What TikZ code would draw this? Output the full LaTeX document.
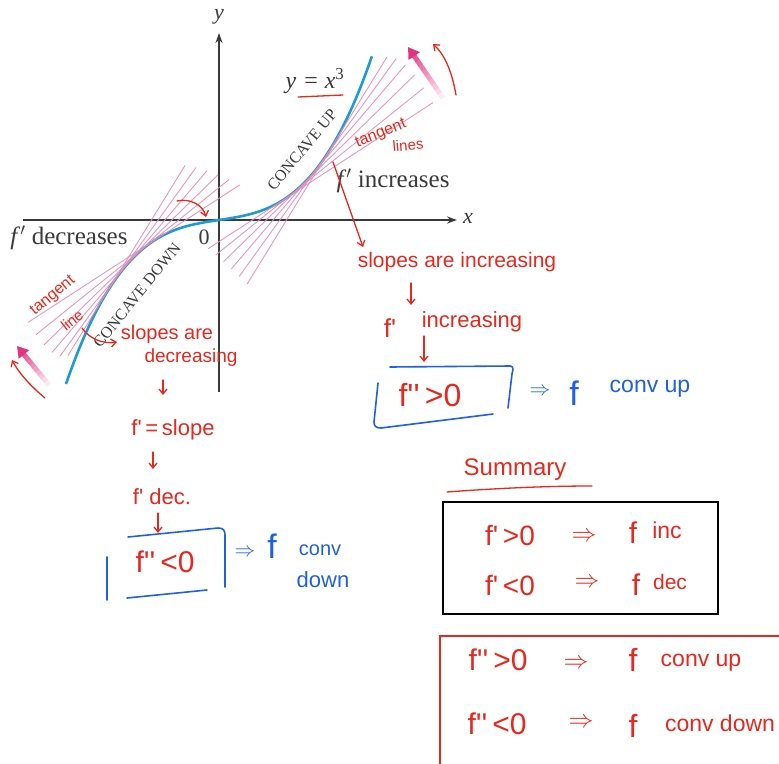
\documentclass[tikz,border=0pt]{standalone}
\usepackage{fontspec}
\setmainfont{Liberation Serif}
\newfontfamily\hand{Liberation Sans}
\usetikzlibrary{arrows.meta,calc}
\definecolor{axisgray}{HTML}{3A3A3A}
\definecolor{curveblue}{HTML}{1E9BD7}
\definecolor{tanpink}{HTML}{E98BB5}
\definecolor{arrpink}{HTML}{E2337F}
\definecolor{inkred}{HTML}{E8271E}
\definecolor{inkblue}{HTML}{1F5FE6}
\newcommand{\hfs}[1]{\hand\fontsize{#1}{#1}\selectfont}
\begin{document}
\begin{tikzpicture}[x=1pt,y=-1pt,
  axisline/.style={draw=axisgray, line width=1.4pt},
  tanline/.style={draw=tanpink, line width=0.9pt, opacity=0.9},
  cubic/.style={draw=curveblue, line width=2.6pt},
  lbl/.style={text=axisgray, inner sep=0pt},
  redink/.style={draw=inkred, line width=1.3pt, line cap=round, line join=round},
  blueink/.style={draw=inkblue, line width=1.6pt, line cap=round, line join=round},
  redtxt/.style={text=inkred, inner sep=0pt},
  bluetxt/.style={text=inkblue, inner sep=0pt},
  barb/.style={-{Straight Barb[length=5pt,width=8pt]}},
]
\useasboundingbox (0,0) rectangle (779,763);
\fill[white] (0,0) rectangle (779,763);

% axes
\draw[axisline, -{Stealth[length=10pt,width=7pt]}] (23,220) -- (457,220);
\draw[axisline, -{Stealth[length=10pt,width=7pt]}] (219,392) -- (219,33);

% cubic curve
\draw[cubic] plot[domain=-1:1,samples=120] ({219+153*\x},{220-(23*\x+141*\x*\x*\x)});

% tangent lines
\foreach \i in {0,...,5}{
  \pgfmathsetmacro\s{0.425+0.061*\i}
  \pgfmathsetmacro\m{(23+423*\s*\s)/153}
  \pgfmathsetmacro\c{-282*\s*\s*\s}
  \pgfmathsetmacro\xa{-11+7.8*\i}
  \pgfmathsetmacro\xb{214-9.2*\i}
  \pgfmathsetmacro\xc{-21+11*\i}
  \pgfmathsetmacro\xd{191-8*\i}
  \draw[tanline] ({219+\xa},{220-(\m*\xa+\c)}) -- ({219+\xb},{220-(\m*\xb+\c)});
  \draw[tanline] ({219-\xc},{220+(\m*\xc+\c)}) -- ({219-\xd},{220+(\m*\xd+\c)});
}

% fading magenta arrows
\coordinate (ta) at (443,98); \coordinate (ha) at (408,47);
\coordinate (tb) at (49,385); \coordinate (hb) at (17,346);
\foreach \i in {0,...,9}{
  \pgfmathsetmacro\p{10+9*\i}
  \draw[draw=arrpink!\p!white, line width=5pt] ($(ta)!\i/11!(ha)$) -- ($(ta)!\i/11+0.1!(ha)$);
  \draw[draw=arrpink!\p!white, line width=5pt] ($(tb)!\i/11!(hb)$) -- ($(tb)!\i/11+0.1!(hb)$);
}
\draw[draw=arrpink, line width=5pt, -{Triangle[length=11pt,width=13pt]}] ($(ta)!0.85!(ha)$) -- (ha);
\draw[draw=arrpink, line width=5pt, -{Triangle[length=11pt,width=13pt]}] ($(tb)!0.85!(hb)$) -- (hb);

% printed labels
\node[lbl, font=\itshape\fontsize{22}{22}\selectfont] (ylab) at (219,17) {y};
\node[lbl, font=\itshape\fontsize{22}{22}\selectfont] (xlab) at (468,218) {x};
\node[lbl, font=\fontsize{22}{22}\selectfont] (zero) at (204,237) {0};
\node[lbl, font=\fontsize{24}{24}\selectfont] (eq) at (315,81) {\textit{y}\hspace{8pt}=\hspace{7pt}\textit{x}\textsuperscript{3}};
\node[lbl, font=\fontsize{25}{25}\selectfont] (finc) at (393,181) {\textit{f}$'$ increases};
\node[lbl, font=\fontsize{25}{25}\selectfont] (fdec) at (69,238) {\textit{f}$'$ decreases};
\node[lbl, font=\fontsize{16}{16}\selectfont, rotate=50.5] (cup) at (302,150) {CONCAVE UP};
\node[lbl, font=\fontsize{16}{16}\selectfont, rotate=51] (cdown) at (137,295) {CONCAVE DOWN};

% red annotations on the graph
\draw[redink] (298,97) -- (343,95);
\draw[redink, barb] (456,95) .. controls (452,72) and (445,55) .. (433,44);
\draw[redink, barb] (45,398) .. controls (33,388) and (20,375) .. (12,360);
\draw[redink, barb] (177,201) .. controls (190,198) and (203,205) .. (206,217);
\node[redtxt, font=\hfs{16}, rotate=22] (tanR) at (381,134) {tangent};
\node[redtxt, font=\hfs{15}, rotate=5] (linR) at (408,145) {lines};
\node[redtxt, font=\hfs{16}, rotate=40] (tanL) at (53,296) {tangent};
\node[redtxt, font=\hfs{15}, rotate=38] (linL) at (72,320) {line};

% right chain
\coordinate (p1) at (333,162); \coordinate (p2) at (363,247);
\draw[redink, barb] (p1) -- (p2);
\node[redtxt, font=\hfs{21}] (sinc) at (457,262) {slopes are increasing};
\draw[redink, barb] (411,283) -- (411,305);
\node[redtxt, font=\hfs{26}] (fp1) at (390,328) {f\textquotesingle};
\node[redtxt, font=\hfs{22}] (incr) at (472,322) {increasing};
\draw[redink, barb] (424,336) -- (424,362);
\draw[blueink] (390,367) -- (510,366) .. controls (514,366) and (513,370) .. (512,374) -- (508,408);
\draw[blueink] (378,383) -- (374,422) .. controls (374,427) and (377,428) .. (381,428) -- (493,414);
\node[redtxt, font=\hfs{32}] (fpp1) at (430,395) {f\textquotesingle\textquotesingle\,>0};
\node[bluetxt, font=\fontsize{22}{22}\selectfont] (imp1) at (540,392) {$\Rightarrow$};
\node[bluetxt, font=\hfs{34}] (f1) at (574,393) {f};
\node[bluetxt, font=\hfs{23}] (cu1) at (650,389) {conv up};

% left chain
\draw[redink, barb] (82,328) .. controls (90,340) and (105,344) .. (117,342);
\node[redtxt, font=\hfs{20}] (sdec1) at (167,334) {slopes are};
\node[redtxt, font=\hfs{19}] (sdec2) at (191,358) {decreasing};
\draw[redink, barb] (163,380) -- (163,395);
\node[redtxt, font=\hfs{22}] (fslope) at (173,430) {f\textquotesingle\,=\,slope};
\draw[redink, barb] (153,452) -- (153,469);
\node[redtxt, font=\hfs{22}] (fdec2) at (162,497) {f\textquotesingle\ dec.};
\draw[redink, barb] (158,513) -- (158,533);
\draw[blueink] (128,537) -- (218,528) .. controls (223,528) and (225,530) .. (225,535) -- (225,587);
\draw[blueink] (107,557) -- (107,600);
\draw[blueink] (127,598) -- (207,590);
\node[redtxt, font=\hfs{30}] (fpp2) at (165,562) {f\textquotesingle\textquotesingle\,<0};
\node[bluetxt, font=\fontsize{20}{20}\selectfont] (imp2) at (245,553) {$\Rightarrow$};
\node[bluetxt, font=\hfs{34}] (f2) at (272,546) {f};
\node[bluetxt, font=\hfs{20}] (cv2) at (320,550) {conv};
\node[bluetxt, font=\hfs{22}] (dn2) at (323,580) {down};

% summary
\node[redtxt, font=\hfs{24}] (summ) at (515,470) {Summary};
\draw[redink] (447,492) .. controls (500,488) and (550,486) .. (592,486);
\draw[black, line width=2pt] (443,502) rectangle (718,614);
\node[redtxt, font=\hfs{28}] (r1a) at (510,535) {f\textquotesingle\,>0};
\node[redtxt, font=\fontsize{26}{26}\selectfont] (r1b) at (584,537) {$\Rightarrow$};
\node[redtxt, font=\hfs{30}] (r1c) at (633,533) {f};
\node[redtxt, font=\hfs{23}] (r1d) at (667,530) {inc};
\node[redtxt, font=\hfs{28}] (r2a) at (510,585) {f\textquotesingle\,<0};
\node[redtxt, font=\fontsize{26}{26}\selectfont] (r2b) at (587,583) {$\Rightarrow$};
\node[redtxt, font=\hfs{30}] (r2c) at (636,585) {f};
\node[redtxt, font=\hfs{21}] (r2d) at (670,582) {dec};

\draw[inkred, line width=1.5pt] (785,636) -- (440,636) -- (440,770);
\node[redtxt, font=\hfs{30}] (s1a) at (498,660) {f\textquotesingle\textquotesingle\,>0};
\node[redtxt, font=\fontsize{26}{26}\selectfont] (s1b) at (576,664) {$\Rightarrow$};
\node[redtxt, font=\hfs{32}] (s1c) at (633,660) {f};
\node[redtxt, font=\hfs{23}] (s1d) at (701,663) {conv up};
\node[redtxt, font=\hfs{30}] (s2a) at (497,724) {f\textquotesingle\textquotesingle\,<0};
\node[redtxt, font=\fontsize{26}{26}\selectfont] (s2b) at (581,723) {$\Rightarrow$};
\node[redtxt, font=\hfs{32}] (s2c) at (633,726) {f};
\node[redtxt, font=\hfs{23}] (s2d) at (720,723) {conv down};
\end{tikzpicture}
\end{document}
